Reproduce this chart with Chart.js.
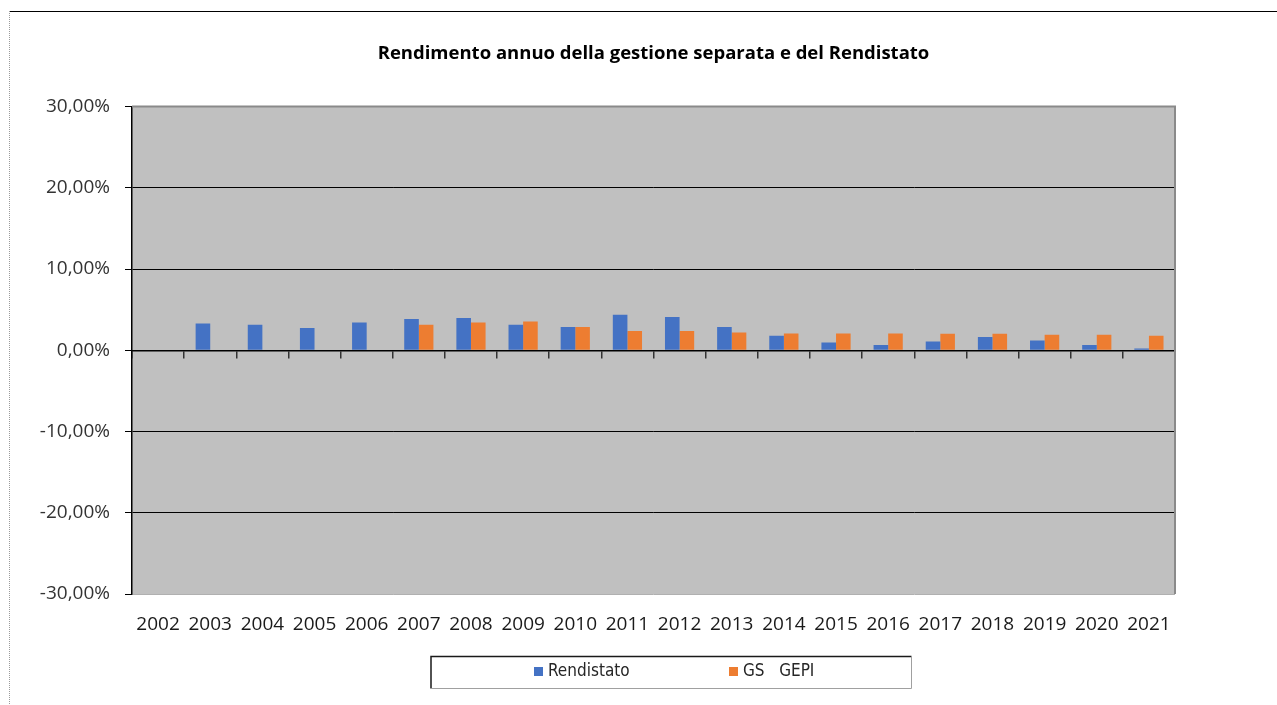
<!DOCTYPE html>
<html>
<head>
<meta charset="utf-8">
<title>Rendimento annuo della gestione separata e del Rendistato</title>
<script src="https://cdn.jsdelivr.net/npm/chart.js@4.4.1/dist/chart.umd.min.js"></script>
<style>
  html, body { margin: 0; padding: 0; background: #fff; }
  #c { display: block; }
</style>
</head>
<body>
<canvas id="c" width="1277" height="705"></canvas>
<script>
// ---- data ----
const years = ['2002','2003','2004','2005','2006','2007','2008','2009','2010','2011',
               '2012','2013','2014','2015','2016','2017','2018','2019','2020','2021'];
const rendistato = [null, 3.30, 3.14, 2.73, 3.42, 3.84, 3.96, 3.14, 2.85, 4.36,
                    4.08, 2.85, 1.78, 0.96, 0.64, 1.08, 1.62, 1.21, 0.64, 0.22];
const gsGepi = [null, null, null, null, null, 3.14, 3.42, 3.54, 2.85, 2.36,
                2.36, 2.19, 2.07, 2.07, 2.07, 2.03, 2.03, 1.91, 1.91, 1.78];
const yTicks = [-30, -20, -10, 0, 10, 20, 30];
const seriesNames = ['Rendistato', 'GS   GEPI'];
const titleText = 'Rendimento annuo della gestione separata e del Rendistato';

const BLUE = '#4472C4';
const ORANGE = '#ED7D31';
const LEGEND_FONT = "17px 'DejaVu Sans Condensed', sans-serif";

const framePlugin = {
  id: 'frame',
  beforeDraw(chart) {
    const ctx = chart.ctx;
    const a = chart.chartArea;
    ctx.save();
    ctx.fillStyle = '#ffffff';
    ctx.fillRect(0, 0, chart.width, chart.height);
    // outer frame
    ctx.strokeStyle = '#000';
    ctx.lineWidth = 1.2;
    ctx.beginPath(); ctx.moveTo(9, 11.5); ctx.lineTo(chart.width, 11.5); ctx.stroke();
    ctx.strokeStyle = '#9a9a9a';
    ctx.lineWidth = 1;
    ctx.setLineDash([1, 1]);
    ctx.beginPath(); ctx.moveTo(9.5, 11); ctx.lineTo(9.5, chart.height); ctx.stroke();
    ctx.setLineDash([]);
    // plot area
    ctx.fillStyle = '#C0C0C0';
    ctx.fillRect(a.left, a.top, a.right - a.left, a.bottom - a.top);
    ctx.restore();
  },
  afterDraw(chart) {
    const ctx = chart.ctx;
    const a = chart.chartArea;
    ctx.save();
    ctx.strokeStyle = '#8a8a8a';
    ctx.lineWidth = 2;
    ctx.beginPath(); ctx.moveTo(a.left, a.top); ctx.lineTo(a.right, a.top); ctx.lineTo(a.right, a.bottom); ctx.stroke();
    // legend box
    ctx.strokeStyle = '#1a1a1a';
    ctx.lineWidth = 1.5;
    ctx.beginPath(); ctx.moveTo(431, 688.5); ctx.lineTo(431, 656.5); ctx.lineTo(911.5, 656.5); ctx.stroke();
    ctx.strokeStyle = '#a0a0a0';
    ctx.lineWidth = 1;
    ctx.beginPath(); ctx.moveTo(911.5, 656.5); ctx.lineTo(911.5, 688.5); ctx.lineTo(431, 688.5); ctx.stroke();
    const starts = [534, 729];
    ctx.font = LEGEND_FONT;
    ctx.textBaseline = 'middle';
    ctx.textAlign = 'left';
    chart.data.datasets.forEach((ds, i) => {
      ctx.fillStyle = ds.backgroundColor;
      ctx.fillRect(starts[i], 667, 9, 9);
      ctx.fillStyle = '#262626';
      ctx.fillText(ds.label, starts[i] + 14, 671.5);
    });
    ctx.restore();
  }
};

const tickFont = { family: "'Open Sans', sans-serif", size: 19 };

new Chart(document.getElementById('c'), {
  type: 'bar',
  data: {
    labels: years,
    datasets: [
      { label: seriesNames[0], data: rendistato, backgroundColor: BLUE, borderWidth: 0,
        categoryPercentage: 0.56, barPercentage: 1.0 },
      { label: seriesNames[1], data: gsGepi, backgroundColor: ORANGE, borderWidth: 0,
        categoryPercentage: 0.56, barPercentage: 1.0 }
    ]
  },
  options: {
    responsive: false,
    animation: false,
    layout: { padding: { left: 0, right: 102, top: 0, bottom: 0 } },
    plugins: {
      legend: { display: false },
      tooltip: { enabled: false },
      title: {
        display: true,
        text: titleText,
        fullSize: false,
        color: '#000',
        font: { family: "'Open Sans', sans-serif", size: 18.5, weight: 'bold' },
        padding: { top: 43, bottom: 41.3 }
      }
    },
    scales: {
      x: {
        position: 'bottom',
        grid: { display: false, drawTicks: false },
        border: { display: false },
        ticks: { font: tickFont, color: '#1a1a1a', padding: 19, maxRotation: 0, autoSkip: false },
        afterFit: s => { s.height = 111; }
      },
      x2: {
        type: 'category',
        labels: years,
        position: { y: 0 },
        offset: true,
        grid: { offset: true, drawOnChartArea: false, drawTicks: true, tickLength: 7, color: '#333', lineWidth: 1.5 },
        border: { display: true, color: '#000', width: 1.5 },
        ticks: { display: false }
      },
      y: {
        min: -30,
        max: 30,
        afterBuildTicks: s => { s.ticks = yTicks.map(v => ({ value: v })); },
        ticks: {
          font: tickFont,
          color: '#333',
          padding: 15,
          callback: v => v.toFixed(2).replace('.', ',') + '%'
        },
        grid: {
          color: c => (c.tick && c.tick.value === 30) ? '#8a8a8a' : (c.tick && c.tick.value === -30) ? '#b0b0b0' : '#000',
          tickColor: '#000',
          tickLength: 7,
          lineWidth: 1
        },
        border: { display: true, color: '#000', width: 1.5 },
        afterFit: s => { s.width = 132; }
      }
    }
  },
  plugins: [framePlugin]
});
</script>
</body>
</html>
